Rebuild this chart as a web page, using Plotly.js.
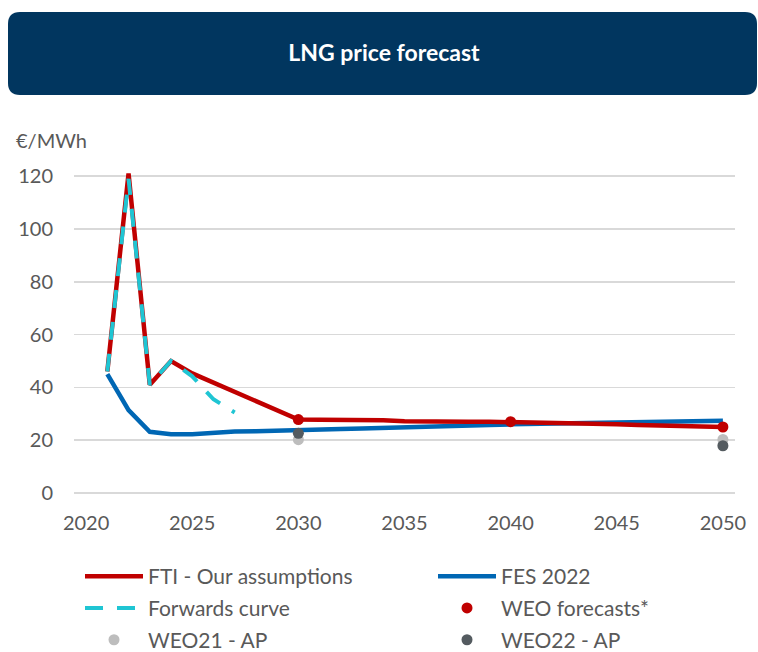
<!DOCTYPE html>
<html>
<head>
<meta charset="utf-8">
<script src="https://cdn.plot.ly/plotly-3.0.1.min.js"></script>
<style>html,body{margin:0;padding:0;background:#fff;}#chart{width:758px;height:652px;}</style>
</head>
<body>
<div id="chart"></div>
<script>
// ---- data ----
var yearsMain = [2021,2022,2023,2024,2025,2026,2027,2028,2029,2030,2031,2032,2033,2034,2035,2036,2037,2038,2039,2040,2041,2042,2043,2044,2045,2046,2047,2048,2049,2050];
var ftiValues = [46,121,41,50,45.3,41.8,38.3,34.9,31.4,27.8,27.7,27.7,27.7,27.6,27.2,27.0,27.0,27.0,27.0,26.9,26.7,26.5,26.3,26.1,26.0,25.8,25.6,25.5,25.3,25.0];
var fesValues = [45,31.4,23.2,22.3,22.3,22.9,23.3,23.4,23.7,23.8,24.0,24.2,24.4,24.7,25.0,25.2,25.4,25.6,25.8,26.0,26.1,26.2,26.4,26.5,26.6,26.8,27.0,27.1,27.2,27.4];
var fwdYears = [2021,2022,2023,2024,2025,2026,2027];
var fwdValues = [46,119,41,50,44.2,35.5,30.5];
var weoYears = [2030,2040,2050];
var weoValues = [27.8,27.0,25.0];
var weo21Years = [2030,2050];
var weo21Values = [20.2,20.3];
var weo22Years = [2030,2050];
var weo22Values = [22.6,17.9];
var xTickVals = [2020,2025,2030,2035,2040,2045,2050];
var xTickText = ['2020','2025','2030','2035','2040','2045','2050'];

// ---- layout helpers (pixel -> paper) ----
var ML = 74, MR = 23, MT = 163, MB = 159, W = 758, H = 652;
var PW = W - ML - MR, PH = H - MT - MB;
function px(x){ return (x - ML) / PW; }
function py(y){ return (H - MB - y) / PH; }
function roundRect(x0,y0,x1,y1,r){
  return 'M'+px(x0+r)+','+py(y0)+
    ' L'+px(x1-r)+','+py(y0)+
    ' Q'+px(x1)+','+py(y0)+' '+px(x1)+','+py(y0+r)+
    ' L'+px(x1)+','+py(y1-r)+
    ' Q'+px(x1)+','+py(y1)+' '+px(x1-r)+','+py(y1)+
    ' L'+px(x0+r)+','+py(y1)+
    ' Q'+px(x0)+','+py(y1)+' '+px(x0)+','+py(y1-r)+
    ' L'+px(x0)+','+py(y0+r)+
    ' Q'+px(x0)+','+py(y0)+' '+px(x0+r)+','+py(y0)+' Z';
}

var FONT = 'Lato, "Open Sans", sans-serif';
var GREY = '#595959';

var traces = [
  {x: yearsMain, y: fesValues, name: 'FES 2022', type: 'scatter', mode: 'lines',
   line: {color: '#0067b4', width: 4.5}, legend: 'legend2', legendgroup: 'b1'},
  {x: yearsMain, y: ftiValues, name: 'FTI - Our assumptions', type: 'scatter', mode: 'lines',
   line: {color: '#c00000', width: 4.5}, legend: 'legend', legendgroup: 'a1'},
  {x: fwdYears, y: fwdValues, name: 'Forwards curve', type: 'scatter', mode: 'lines',
   line: {color: '#1fc5d3', width: 4, dash: '18px,14px'}, legend: 'legend', legendgroup: 'a2'},
  {x: weoYears, y: weoValues, name: 'WEO forecasts*', type: 'scatter', mode: 'markers',
   marker: {color: '#c00000', size: 11}, legend: 'legend2', legendgroup: 'b2'},
  {x: weo21Years, y: weo21Values, name: 'WEO21 - AP', type: 'scatter', mode: 'markers',
   marker: {color: '#bdbdbd', size: 11}, legend: 'legend', legendgroup: 'a3'},
  {x: weo22Years, y: weo22Values, name: 'WEO22 - AP', type: 'scatter', mode: 'markers',
   marker: {color: '#545b60', size: 11}, legend: 'legend2', legendgroup: 'b3'}
];

var legendCommon = {
  orientation: 'v', font: {family: FONT, size: 21, color: GREY},
  bgcolor: 'rgba(0,0,0,0)', borderwidth: 0, itemwidth: 58, tracegroupgap: 1.5,
  yanchor: 'top', xanchor: 'left', itemclick: false, itemdoubleclick: false
};

var layout = {
  width: W, height: H,
  margin: {l: ML, r: MR, t: MT, b: MB, autoexpand: false},
  paper_bgcolor: '#ffffff', plot_bgcolor: '#ffffff',
  font: {family: FONT, color: GREY},
  title: {text: 'LNG price forecast', x: 384/W, xanchor: 'center', y: 1 - 53/H, yanchor: 'middle',
          font: {family: FONT, size: 23, color: '#ffffff', weight: 'bold'}},
  xaxis: {range: [2019.43, 2050.57], tickvals: xTickVals, ticktext: xTickText,
          showgrid: false, zeroline: false, showline: false, ticks: '',
          tickfont: {family: FONT, size: 20, color: GREY}, ticklabelstandoff: 16, fixedrange: true},
  yaxis: {range: [0, 125], tickvals: [0,20,40,60,80,100,120], showgrid: true, gridcolor: '#d9d9d9', gridwidth: 1.5,
          zeroline: true, zerolinecolor: '#d9d9d9', zerolinewidth: 1.5, showline: false, ticks: '',
          tickfont: {family: FONT, size: 20, color: GREY}, ticklabelstandoff: 20, fixedrange: true},
  legend: Object.assign({}, legendCommon, {x: px(80), y: py(556)}),
  legend2: Object.assign({}, legendCommon, {x: px(433), y: py(556)}),
  shapes: [{type: 'path', xref: 'paper', yref: 'paper', path: roundRect(8,12,757,95,12),
            fillcolor: '#01365f', line: {width: 0}, layer: 'below'}],
  annotations: [{text: '€/MWh', xref: 'paper', yref: 'paper', x: px(14), y: py(140),
                 xanchor: 'left', yanchor: 'middle', showarrow: false,
                 font: {family: FONT, size: 20, color: GREY}}]
};

Plotly.newPlot('chart', traces, layout, {displayModeBar: false, staticPlot: true});
</script>
</body>
</html>
